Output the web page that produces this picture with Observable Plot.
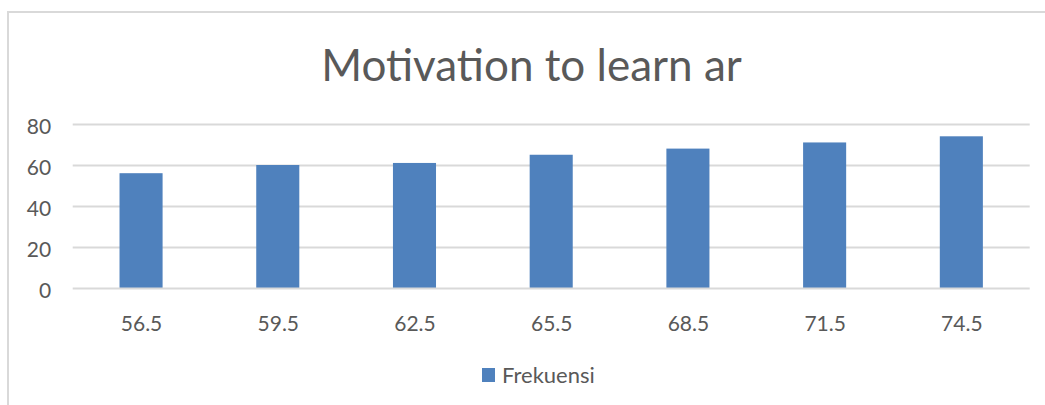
<!DOCTYPE html>
<html><head><meta charset="utf-8">
<script src="https://cdn.jsdelivr.net/npm/d3@7"></script>
<script src="https://cdn.jsdelivr.net/npm/@observablehq/plot@0.6"></script>
<style>
html,body{margin:0;padding:0;background:#fff;width:1045px;height:405px;overflow:hidden;font-family:Lato,sans-serif;position:relative;}
#frame{position:absolute;left:7px;top:11px;width:1100px;height:500px;border:2px solid #d9d9d9;box-sizing:border-box;}
#title{position:absolute;left:0;width:1063px;top:42px;text-align:center;font-size:44px;line-height:1;color:#595959;white-space:nowrap;}
#chart{position:absolute;left:0;top:100px;}
#legsw{position:absolute;left:482px;top:368px;width:13px;height:13.5px;background:#4f81bd;}
#legtx{position:absolute;left:502px;top:364px;font-size:22px;line-height:1;color:#595959;white-space:nowrap;}
</style></head>
<body>
<div id="frame"></div>
<div id="title">Motivation to learn ar</div>
<div id="chart"></div>
<div id="legsw"></div>
<div id="legtx">Frekuensi</div>
<script>
const categories = ["56.5","59.5","62.5","65.5","68.5","71.5","74.5"];
const frekuensi = [56, 60, 61, 65, 68, 71, 74];
const yTicks = [0, 20, 40, 60, 80];

const data = categories.map((c, i) => ({category: c, value: frekuensi[i]}));

const chart = Plot.plot({
  width: 1045,
  height: 250,
  marginLeft: 72.7,
  marginRight: 15.3,
  marginTop: 24,
  marginBottom: 62,
  x: {domain: categories, paddingInner: 0.685, paddingOuter: 0.3425, round: false, axis: null, label: null},
  y: {domain: [0, 80], axis: null, label: null},
  style: {fontFamily: "Lato, sans-serif", fontSize: "21px", color: "#595959", background: "transparent", overflow: "visible"},
  marks: [
    Plot.gridY(yTicks.filter(d => d !== 0), {stroke: "#d9d9d9", strokeOpacity: 1, strokeWidth: 2}),
    Plot.barY(data, {x: "category", y: "value", fill: "#4f81bd"}),
    Plot.ruleY([0], {stroke: "#d9d9d9", strokeOpacity: 1, strokeWidth: 2}),
    Plot.axisY(yTicks, {tickSize: 0, tickPadding: 22, fontSize: 21, dy: 3, label: null}),
    Plot.axisX({tickSize: 0, tickPadding: 28, fontSize: 21, label: null})
  ]
});
document.getElementById("chart").appendChild(chart);
</script>
</body></html>
